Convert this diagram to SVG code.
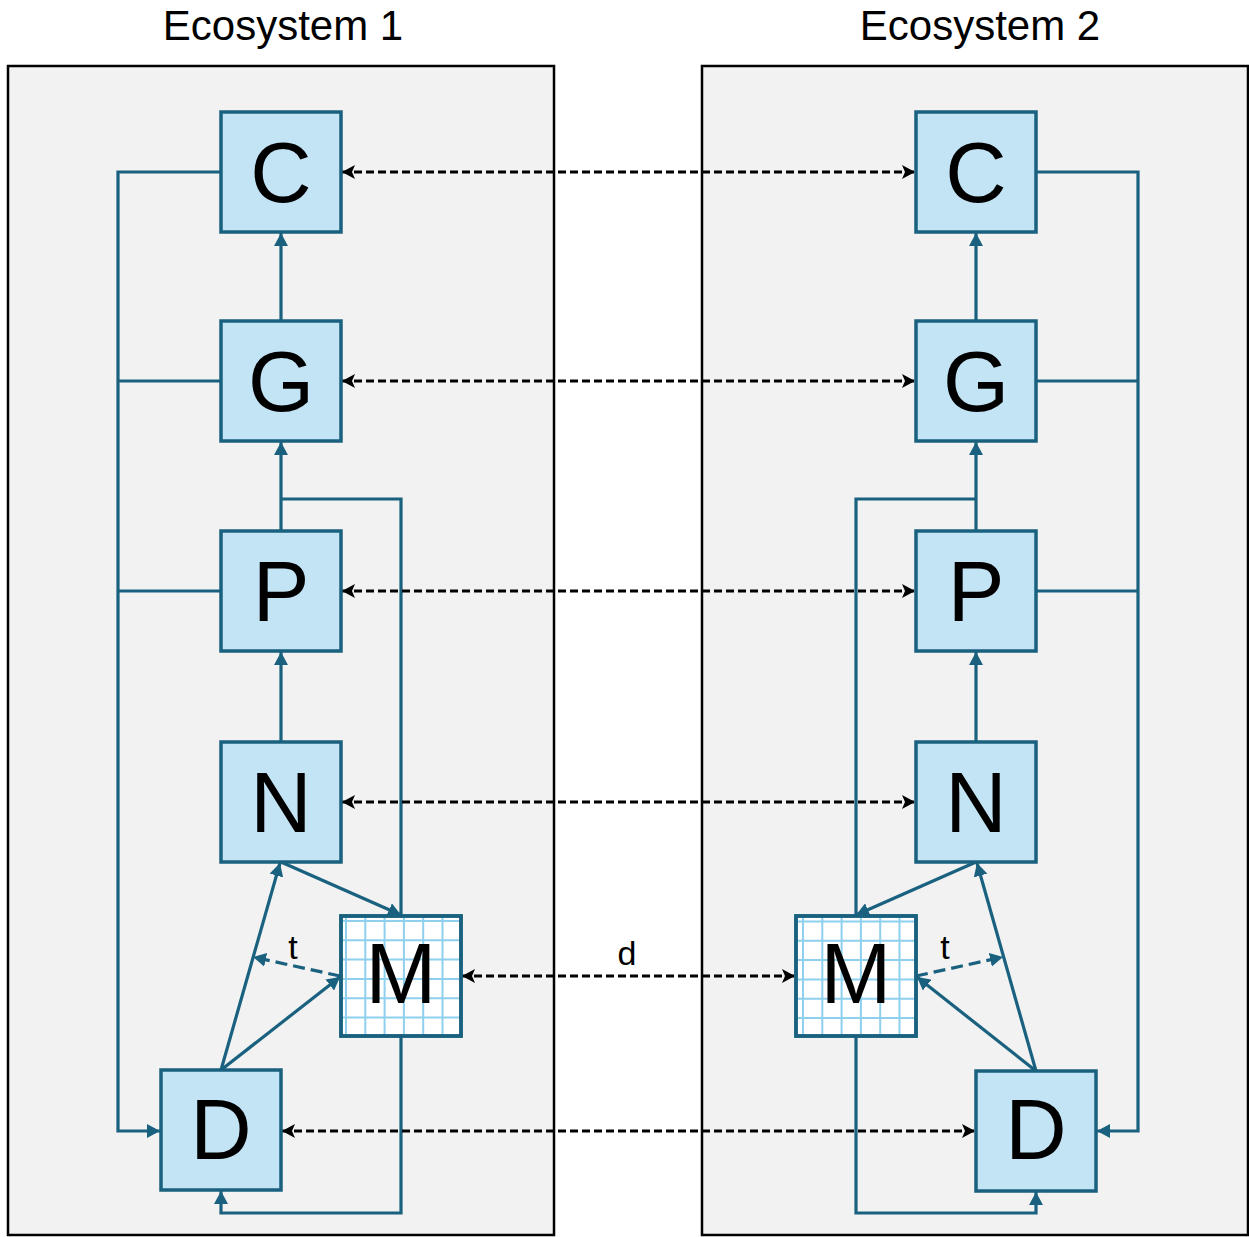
<svg xmlns="http://www.w3.org/2000/svg" width="1249" height="1237" viewBox="0 0 1249 1237">
<defs>
<style>
.cont{fill:#f2f2f2;stroke:#000;stroke-width:2.5}
.box{fill:#c2e4f5;stroke:#19617f;stroke-width:3.5}
.mbox{fill:#ffffff;stroke:#19617f;stroke-width:3.5}
.grid{fill:none;stroke:#8ed0ee;stroke-width:2}
.lbl{font-family:"Liberation Sans",Arial,sans-serif;font-size:85px;fill:#000;text-anchor:middle}
.title{font-family:"Liberation Sans",Arial,sans-serif;font-size:42px;fill:#000;text-anchor:middle}
.small{font-family:"Liberation Sans",Arial,sans-serif;font-size:34px;fill:#000;text-anchor:middle}
.bl{fill:none;stroke:#19617f;stroke-width:3.2;marker-end:url(#ab)}
.bn{fill:none;stroke:#19617f;stroke-width:3.2}
.bd{fill:none;stroke:#19617f;stroke-width:3.2;stroke-dasharray:12 6;marker-end:url(#ab)}
.kd{fill:none;stroke:#000;stroke-width:3.2;stroke-dasharray:8 4;marker-start:url(#ak);marker-end:url(#ak)}
</style>
<marker id="ab" markerUnits="userSpaceOnUse" markerWidth="14" markerHeight="14" refX="13" refY="7" orient="auto">
<path d="M0,0 L13,7 L0,14 z" fill="#19617f"/>
</marker>
<marker id="ak" markerUnits="userSpaceOnUse" markerWidth="14" markerHeight="14" refX="13" refY="7" orient="auto-start-reverse">
<path d="M0,0 L13,7 L0,14 L3,7 z" fill="#000"/>
</marker>
</defs>
<rect width="1249" height="1237" fill="#ffffff"/>
<g id="ecosystem1">
<rect class="cont" x="8" y="66" width="546" height="1169"/>
<text class="title" x="283" y="40">Ecosystem 1</text>
</g>
<g id="ecosystem2">
<rect class="cont" x="702" y="66" width="546" height="1169"/>
<text class="title" x="980" y="40">Ecosystem 2</text>
</g>
<g id="connectors">
<path class="bl" d="M221,172 H118 V1131 H160"/>
<path class="bn" d="M221,381 H118"/>
<path class="bn" d="M221,591 H118"/>
<path class="bl" d="M281,321 V233"/>
<path class="bl" d="M281,531 V442"/>
<path class="bn" d="M401,916 V499 H281"/>
<path class="bl" d="M281,742 V652"/>
<path class="bl" d="M281,862 L401,915"/>
<path class="bl" d="M221,1070 L280,863"/>
<path class="bl" d="M221,1070 L340,977"/>
<path class="bd" d="M340,976 L253,957"/>
<path class="bl" d="M401,1036 V1213 H221 V1191"/>
<path class="bl" d="M1036,172 H1138 V1131 H1097"/>
<path class="bn" d="M1036,381 H1138"/>
<path class="bn" d="M1036,591 H1138"/>
<path class="bl" d="M976,321 V233"/>
<path class="bl" d="M976,531 V442"/>
<path class="bn" d="M856,916 V499 H976"/>
<path class="bl" d="M976,742 V652"/>
<path class="bl" d="M976,862 L856,915"/>
<path class="bl" d="M1036,1071 L977,863"/>
<path class="bl" d="M1036,1071 L917,977"/>
<path class="bd" d="M916,976 L1003,957"/>
<path class="bl" d="M856,1036 V1213 H1036 V1192"/>
<path class="kd" d="M342,172 H915"/>
<path class="kd" d="M342,381 H915"/>
<path class="kd" d="M342,591 H915"/>
<path class="kd" d="M342,802 H915"/>
<path class="kd" d="M462,976 H795"/>
<path class="kd" d="M282,1131 H975"/>
<text class="small" x="627" y="965">d</text>
<text class="small" x="293" y="959">t</text>
<text class="small" x="945" y="959">t</text>
</g>
<g id="C1"><rect class="box" x="221" y="112" width="120" height="120"/><text class="lbl" x="281" y="202">C</text></g>
<g id="G1"><rect class="box" x="221" y="321" width="120" height="120"/><text class="lbl" x="281" y="411">G</text></g>
<g id="P1"><rect class="box" x="221" y="531" width="120" height="120"/><text class="lbl" x="281" y="621">P</text></g>
<g id="N1"><rect class="box" x="221" y="742" width="120" height="120"/><text class="lbl" x="281" y="832">N</text></g>
<g id="M1"><rect class="mbox" x="341" y="916" width="120" height="120"/>
<path class="grid" d="M346,918 V1034 M365.3,918 V1034 M384.6,918 V1034 M403.9,918 V1034 M423.2,918 V1034 M442.5,918 V1034 M343,921 H459 M343,940.3 H459 M343,959.6 H459 M343,978.9 H459 M343,998.2 H459 M343,1017.5 H459"/>
<rect x="341" y="916" width="120" height="120" fill="none" stroke="#19617f" stroke-width="3.5"/>
<text class="lbl" x="401" y="1003">M</text></g>
<g id="D1"><rect class="box" x="161" y="1070" width="120" height="120"/><text class="lbl" x="221" y="1159">D</text></g>
<g id="C2"><rect class="box" x="916" y="112" width="120" height="120"/><text class="lbl" x="976" y="202">C</text></g>
<g id="G2"><rect class="box" x="916" y="321" width="120" height="120"/><text class="lbl" x="976" y="411">G</text></g>
<g id="P2"><rect class="box" x="916" y="531" width="120" height="120"/><text class="lbl" x="976" y="621">P</text></g>
<g id="N2"><rect class="box" x="916" y="742" width="120" height="120"/><text class="lbl" x="976" y="832">N</text></g>
<g id="M2"><rect class="mbox" x="796" y="916" width="120" height="120"/>
<path class="grid" d="M803,918 V1034 M822.3,918 V1034 M841.6,918 V1034 M860.9,918 V1034 M880.2,918 V1034 M899.5,918 V1034 M798,921.5 H914 M798,940.8 H914 M798,960.1 H914 M798,979.4 H914 M798,998.7 H914 M798,1018 H914"/>
<rect x="796" y="916" width="120" height="120" fill="none" stroke="#19617f" stroke-width="3.5"/>
<text class="lbl" x="856" y="1003">M</text></g>
<g id="D2"><rect class="box" x="976" y="1071" width="120" height="120"/><text class="lbl" x="1036" y="1159">D</text></g>
</svg>
